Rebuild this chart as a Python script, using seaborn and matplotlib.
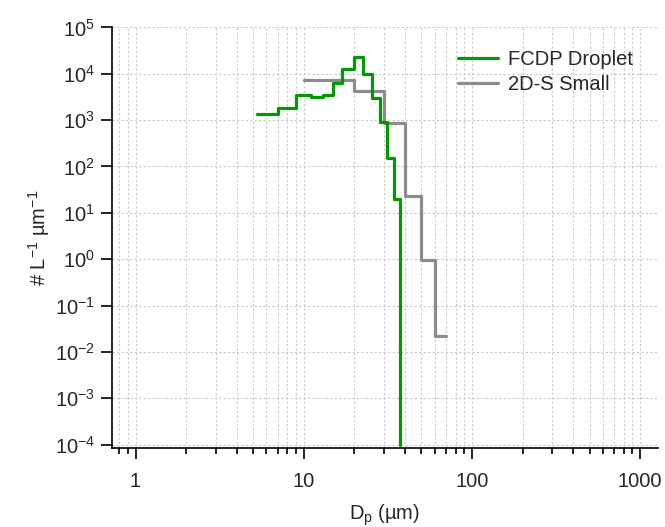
import numpy as np
import pandas as pd
import matplotlib
matplotlib.use("Agg")
import matplotlib.pyplot as plt
import matplotlib.ticker as mticker
import seaborn as sns

# FCDP droplet: bin edges (um) and concentration (# L-1 um-1)
fcdp_edges = [5.3, 7.0, 9.0, 11.0, 13.0, 15.0, 17.0, 20.0, 22.6, 25.6, 28.4, 31.2, 34.6, 37.5]
fcdp_conc = [1330, 1820, 3460, 3180, 3550, 6190, 12400, 23200, 10100, 2980, 920, 149, 19.8]
fcdp_floor = 1e-4  # trace drops to the axis bottom after the last bin

# 2D-S small: bin edges and concentration
twods_edges = [10, 20, 30, 40, 50, 60, 70]
twods_conc = [7290, 4290, 849, 23.3, 0.955, 0.0222]

x_ticks = [1, 10, 100, 1000]
y_ticks = [10.0 ** k for k in range(-4, 6)]

sns.set_theme(style="ticks")
plt.rcParams["font.family"] = ["Liberation Sans", "DejaVu Sans"]
plt.rcParams["mathtext.fontset"] = "custom"
plt.rcParams["mathtext.rm"] = "Liberation Sans"
plt.rcParams["mathtext.it"] = "Liberation Sans"
plt.rcParams["mathtext.default"] = "regular"

GREEN = "#009900"
GRAY = "#8c8c8c"

fcdp = pd.DataFrame({"Dp": fcdp_edges, "conc": fcdp_conc + [fcdp_floor]})
twods = pd.DataFrame({"Dp": twods_edges, "conc": twods_conc + [twods_conc[-1]]})

fig = plt.figure(figsize=(6.65, 5.27), dpi=100)
ax = fig.add_axes([0.168, 0.149, 0.822, 0.799])
ax.set_xscale("log")
ax.set_yscale("log")

sns.lineplot(data=twods, x="Dp", y="conc", ax=ax, color=GRAY, lw=2.3,
             drawstyle="steps-post", estimator=None, label="2D-S Small")
sns.lineplot(data=fcdp, x="Dp", y="conc", ax=ax, color=GREEN, lw=2.3,
             drawstyle="steps-post", estimator=None, label="FCDP Droplet")

ax.set_xlim(0.722, 1283)
ax.set_ylim(10 ** -4.083, 1e5)

ax.xaxis.set_major_locator(mticker.FixedLocator(x_ticks))
ax.xaxis.set_major_formatter(mticker.FixedFormatter([str(t) for t in x_ticks]))
ax.xaxis.set_minor_locator(mticker.LogLocator(base=10, subs=np.arange(2, 10), numticks=20))
ax.xaxis.set_minor_formatter(mticker.NullFormatter())
ax.yaxis.set_major_locator(mticker.FixedLocator(y_ticks))
ax.yaxis.set_major_formatter(mticker.LogFormatterSciNotation())
ax.yaxis.set_minor_locator(mticker.NullLocator())

ax.grid(which="major", axis="both", color="#c8c8c8", ls=(0, (2, 2)), lw=0.8)
ax.grid(which="minor", axis="x", color="#c8c8c8", ls=(0, (2, 2)), lw=0.8)

sns.despine(ax=ax)
for s in ("left", "bottom"):
    ax.spines[s].set_linewidth(1.2)
    ax.spines[s].set_color("black")
ax.tick_params(which="major", length=8, width=1.2, labelsize=14.5, color="black")
ax.tick_params(axis="x", which="major", pad=9)
ax.tick_params(axis="y", which="major", pad=4)
ax.tick_params(which="minor", length=4.3, width=1.2, color="black")

ax.set_xlabel("D$_p$ (µm)", fontsize=14.5, labelpad=8)
ax.set_ylabel("# L$^{-1}$ µm$^{-1}$", fontsize=14.5, labelpad=2)

h, l = ax.get_legend_handles_labels()
ax.legend(h[::-1], l[::-1], loc="upper left", bbox_to_anchor=(0.6, 0.99),
          frameon=False, fontsize=14.5, handlelength=2.0, handletextpad=0.5,
          labelspacing=0.3)

fig.savefig("out.png", dpi=100)
